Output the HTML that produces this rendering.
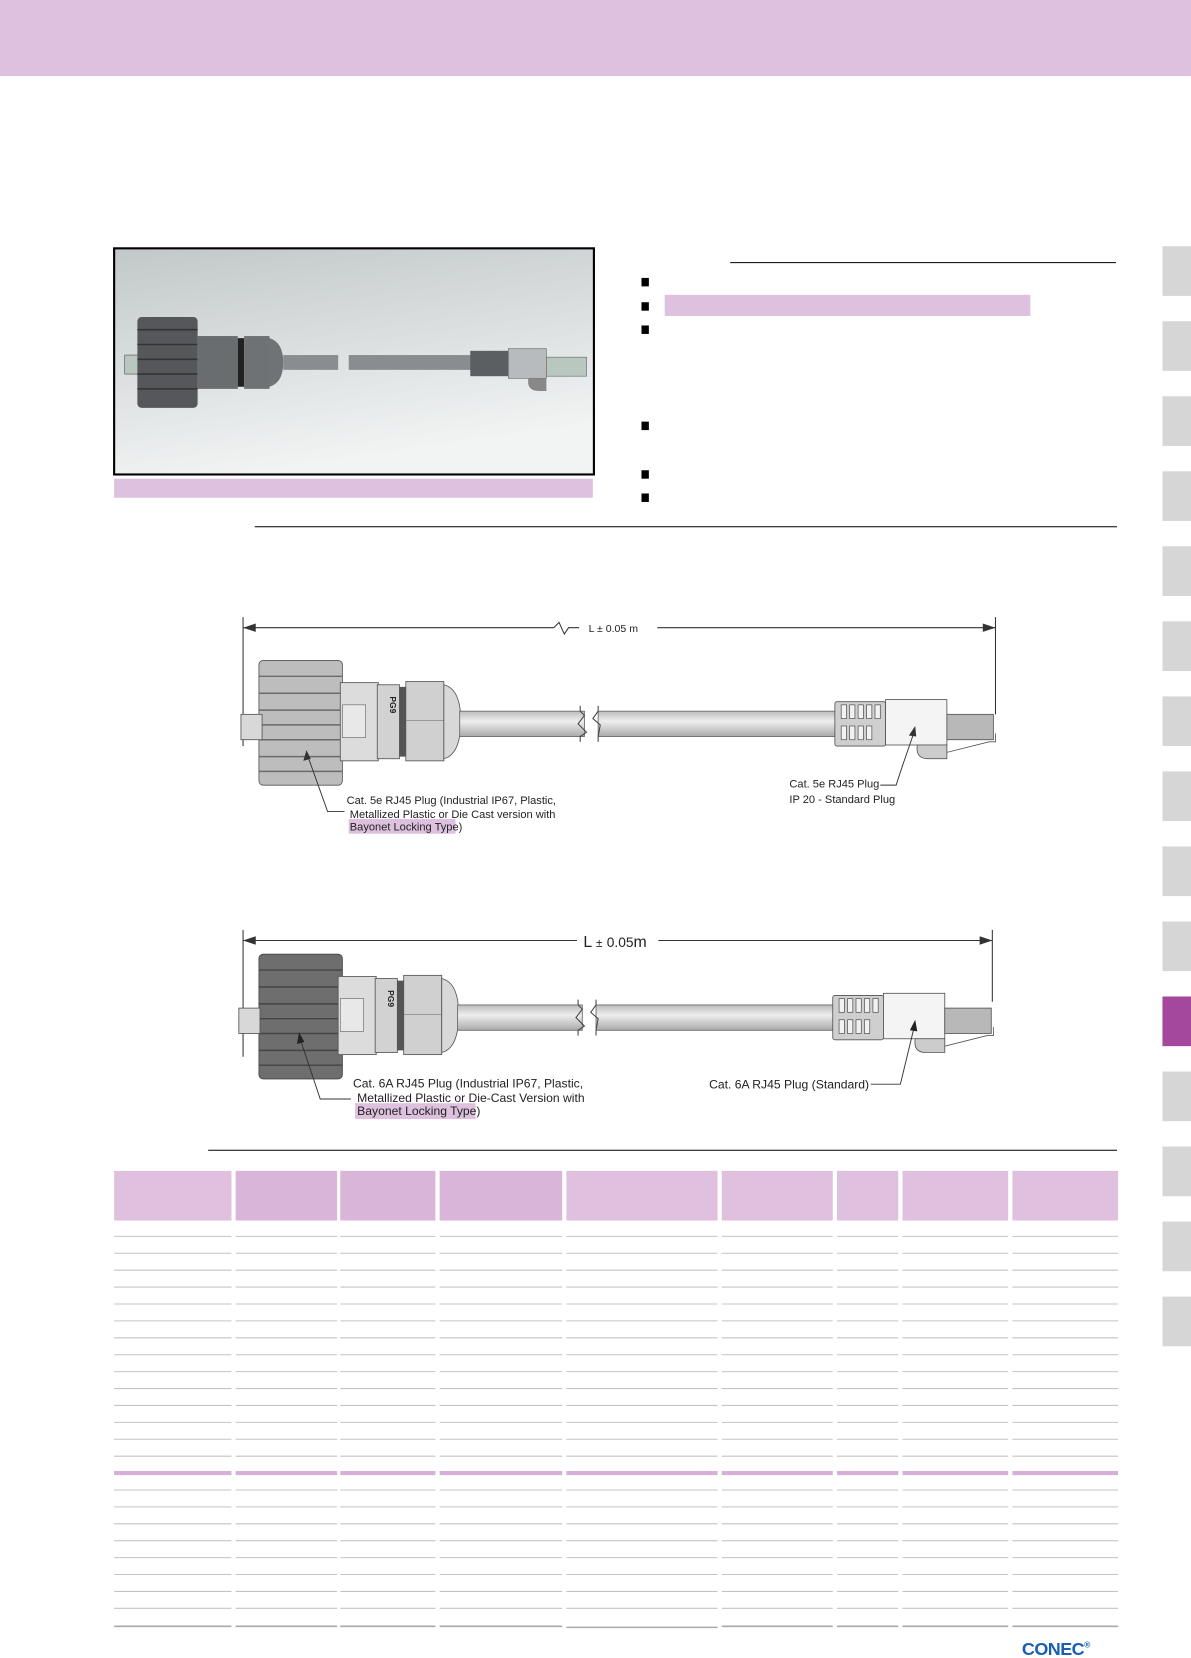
<!DOCTYPE html>
<html><head><meta charset="utf-8"><style>
html,body{margin:0;padding:0;background:#fff;}
svg{display:block;}
text{font-family:"Liberation Sans",sans-serif;}
</style></head><body>
<svg width="1191" height="1658" viewBox="0 0 1127 1569" preserveAspectRatio="none" xmlns="http://www.w3.org/2000/svg">
<defs>
<linearGradient id="bg" x1="0" y1="0" x2="0.3" y2="1">
<stop offset="0" stop-color="#c2c8c8"/><stop offset="1" stop-color="#f2f4f4"/></linearGradient>
<linearGradient id="cab" x1="0" y1="0" x2="0" y2="1">
<stop offset="0" stop-color="#bbb"/><stop offset="0.4" stop-color="#eee"/><stop offset="1" stop-color="#aaa"/></linearGradient>
<g id="conn">
 <rect x="228" y="676" width="20" height="24" fill="#d8d8d8" stroke="#555" stroke-width="0.8"/>
 <rect x="322" y="646" width="36" height="74" fill="#dcdcdc" stroke="#555" stroke-width="0.8"/>
 <rect x="324" y="667" width="22" height="31" fill="#e8e8e8" stroke="#666" stroke-width="0.6"/>
 <rect x="357" y="648" width="21" height="70" fill="#d2d2d2" stroke="#555" stroke-width="0.8"/>
 <text x="364" y="660" font-size="8" font-weight="bold" transform="rotate(90 367 662)" fill="#222">PG9</text>
 <rect x="378" y="650" width="6" height="66" fill="#555"/>
 <rect x="384" y="645" width="36" height="75" fill="#d0d0d0" stroke="#555" stroke-width="0.8"/>
 <line x1="384" y1="682" x2="420" y2="682" stroke="#777" stroke-width="0.6"/>
 <path d="M420 648 Q436 652 436 682 Q436 714 420 718 Z" fill="#d8d8d8" stroke="#555" stroke-width="0.8"/>
 <rect x="435" y="673" width="118" height="24" fill="url(#cab)" stroke="#666" stroke-width="0.8"/>
 <path d="M549 668 L549 673 L553 677 L547 685 L555 693 L549 697 L549 702" fill="none" stroke="#444" stroke-width="1"/>
 <rect x="566" y="673" width="226" height="24" fill="url(#cab)" stroke="#666" stroke-width="0.8"/>
 <path d="M566 668 L566 673 L561 680 L568 686 L566 697 L566 702" fill="none" stroke="#444" stroke-width="1"/>
 <rect x="790" y="664" width="48" height="42" fill="#cfcfcf" stroke="#555" stroke-width="0.8" rx="2"/>
 <g fill="#f2f2f2" stroke="#555" stroke-width="0.7">
  <rect x="796" y="667" width="5" height="13"/><rect x="804" y="667" width="5" height="13"/><rect x="812" y="667" width="5" height="13"/><rect x="820" y="667" width="5" height="13"/><rect x="828" y="667" width="5" height="13"/>
  <rect x="796" y="687" width="5" height="13"/><rect x="804" y="687" width="5" height="13"/><rect x="812" y="687" width="5" height="13"/><rect x="820" y="687" width="5" height="13"/>
 </g>
 <rect x="838" y="662" width="58" height="43" fill="#f4f4f4" stroke="#555" stroke-width="0.8"/>
 <path d="M868 705 Q866 718 878 718 L896 718 L896 705 Z" fill="#ccc" stroke="#555" stroke-width="0.8"/>
 <rect x="896" y="676" width="44" height="24" fill="#b8b8b8" stroke="#555" stroke-width="0.8"/>
 <path d="M896 712 L936 702 L942 702 L942 694" fill="none" stroke="#555" stroke-width="0.8"/>
</g>
</defs>

<rect x="0" y="0" width="1127" height="72" fill="#ddc1de"/>

<g fill="#d6d6d6">
<rect x="1100" y="233" width="27" height="47"/><rect x="1100" y="304" width="27" height="47"/><rect x="1100" y="375" width="27" height="47"/><rect x="1100" y="446" width="27" height="47"/><rect x="1100" y="517" width="27" height="47"/><rect x="1100" y="588" width="27" height="47"/><rect x="1100" y="659" width="27" height="47"/><rect x="1100" y="730" width="27" height="47"/><rect x="1100" y="801" width="27" height="47"/><rect x="1100" y="872" width="27" height="47"/>
<rect x="1100" y="1014" width="27" height="47"/><rect x="1100" y="1085" width="27" height="47"/><rect x="1100" y="1156" width="27" height="47"/><rect x="1100" y="1227" width="27" height="47"/>
</g>
<rect x="1100" y="943" width="27" height="47" fill="#a3489c"/>

<rect x="108" y="235" width="454" height="214" fill="url(#bg)" stroke="#000" stroke-width="2"/>
<g>
 <rect x="118" y="336" width="14" height="18" fill="#b8c8c0" stroke="#555" stroke-width="0.6"/>
 <rect x="130" y="300" width="57" height="86" rx="4" fill="#55575a"/>
 <g stroke="#333" stroke-width="1.5"><line x1="130" y1="312" x2="187" y2="312"/><line x1="130" y1="326" x2="187" y2="326"/><line x1="130" y1="340" x2="187" y2="340"/><line x1="130" y1="354" x2="187" y2="354"/><line x1="130" y1="368" x2="187" y2="368"/></g>
 <rect x="187" y="318" width="38" height="50" fill="#6a6d70"/>
 <rect x="225" y="320" width="6" height="46" fill="#222"/>
 <rect x="231" y="318" width="24" height="50" fill="#6f7275"/>
 <path d="M255 320 Q268 324 268 343 Q268 362 255 366 Z" fill="#707376"/>
 <rect x="268" y="336" width="52" height="14" fill="#8a8d90"/>
 <rect x="330" y="336" width="118" height="14" fill="#8a8d90"/>
 <rect x="445" y="332" width="36" height="24" fill="#5c5f62"/>
 <rect x="481" y="330" width="36" height="28" fill="#b8bbbe" stroke="#666" stroke-width="0.6"/>
 <path d="M500 358 Q498 370 510 370 L517 370 L517 358 Z" fill="#888"/>
 <rect x="517" y="338" width="38" height="18" fill="#b8c8c0" stroke="#666" stroke-width="0.6"/>
</g>
<rect x="108" y="453" width="453" height="18" fill="#ddc1de"/>

<line x1="691" y1="248.5" x2="1056" y2="248.5" stroke="#000" stroke-width="1"/>
<g fill="#000">
<rect x="607" y="263" width="7" height="8"/><rect x="607" y="286" width="7" height="8"/><rect x="607" y="308" width="7" height="8"/><rect x="607" y="399" width="7" height="8"/><rect x="607" y="445" width="7" height="8"/><rect x="607" y="467" width="7" height="8"/>
</g>
<rect x="629" y="279" width="346" height="20" fill="#ddc1de"/>
<line x1="241" y1="498.5" x2="1057" y2="498.5" stroke="#000" stroke-width="1"/>

<g stroke="#333" stroke-width="1" fill="none">
 <line x1="230" y1="584" x2="230" y2="706"/>
 <line x1="942" y1="584" x2="942" y2="676"/>
 <path d="M230 594 L524 594 L529 589 L534 600 L538 594 L548 594"/>
 <line x1="622" y1="594" x2="942" y2="594"/>
</g>
<path d="M230 594 L242 590 L242 598 Z M942 594 L930 590 L930 598 Z" fill="#333"/>
<text x="557" y="598" font-size="10" fill="#222">L ± 0.05 m</text>
<rect x="245" y="625" width="79" height="118" rx="4" fill="#bdbdbd" stroke="#555" stroke-width="0.8"/>
<g stroke="#6a6a6a" stroke-width="1.4"><line x1="245" y1="640" x2="324" y2="640"/><line x1="245" y1="656" x2="324" y2="656"/><line x1="245" y1="672" x2="324" y2="672"/><line x1="245" y1="686" x2="324" y2="686"/><line x1="245" y1="700" x2="324" y2="700"/><line x1="245" y1="716" x2="324" y2="716"/><line x1="245" y1="730" x2="324" y2="730"/></g>
<use href="#conn"/>
<g stroke="#333" stroke-width="0.9" fill="none">
 <path d="M290 712 L310 768 L326 768"/>
 <path d="M833 743 L848 743 Q852 730 866 690"/>
</g>
<path d="M290 710 L287 720 L294 718 Z M866 687 L860 696 L867 697 Z" fill="#333"/>
<rect x="330" y="775" width="101" height="14" fill="#ddc1de"/>
<g font-size="10.5" fill="#222">
<text x="328" y="761">Cat. 5e RJ45 Plug (Industrial IP67, Plastic,</text>
<text x="331" y="774">Metallized Plastic or Die Cast version with</text>
<text x="331" y="786">Bayonet Locking Type)</text>
<text x="747" y="745">Cat. 5e RJ45 Plug</text>
<text x="747" y="760">IP 20 - Standard Plug</text>
</g>

<g stroke="#333" stroke-width="1" fill="none">
 <line x1="230" y1="880" x2="230" y2="1000"/>
 <line x1="939" y1="880" x2="939" y2="948"/>
 <line x1="230" y1="890" x2="546" y2="890"/>
 <line x1="623" y1="890" x2="939" y2="890"/>
</g>
<path d="M230 890 L242 886 L242 894 Z M939 890 L927 886 L927 894 Z" fill="#333"/>
<text x="552" y="896" font-size="15" fill="#222">L <tspan font-size="11">±</tspan> <tspan font-size="13">0.05</tspan>m</text>
<rect x="245" y="903" width="79" height="118" rx="4" fill="#6e6e6e" stroke="#444" stroke-width="0.8"/>
<g stroke="#444" stroke-width="1.4"><line x1="245" y1="918" x2="324" y2="918"/><line x1="245" y1="934" x2="324" y2="934"/><line x1="245" y1="950" x2="324" y2="950"/><line x1="245" y1="964" x2="324" y2="964"/><line x1="245" y1="978" x2="324" y2="978"/><line x1="245" y1="994" x2="324" y2="994"/><line x1="245" y1="1008" x2="324" y2="1008"/></g>
<use href="#conn" transform="translate(-2 278)"/>
<g stroke="#333" stroke-width="0.9" fill="none">
 <path d="M283 980 L303 1040 L332 1040"/>
 <path d="M824 1026 L852 1026 L866 968"/>
</g>
<path d="M283 977 L281 988 L288 986 Z M866 965 L861 975 L868 976 Z" fill="#222"/>
<rect x="336" y="1044" width="114" height="15" fill="#ddc1de"/>
<g font-size="11.5" fill="#222">
<text x="334" y="1029">Cat. 6A RJ45 Plug (Industrial IP67, Plastic,</text>
<text x="338" y="1043">Metallized Plastic or Die-Cast Version with</text>
<text x="338" y="1055">Bayonet Locking Type)</text>
<text x="671" y="1030">Cat. 6A RJ45 Plug (Standard)</text>
</g>

<line x1="197" y1="1088.5" x2="1057" y2="1088.5" stroke="#000" stroke-width="1"/>

<g fill="#dfc0df">
<rect x="108" y="1108" width="111" height="47"/><rect x="536" y="1108" width="143" height="47"/><rect x="683" y="1108" width="105" height="47"/><rect x="792" y="1108" width="58" height="47"/><rect x="854" y="1108" width="100" height="47"/><rect x="958" y="1108" width="100" height="47"/>
</g>
<g fill="#d9b5d9">
<rect x="223" y="1108" width="96" height="47"/><rect x="322" y="1108" width="90" height="47"/><rect x="416" y="1108" width="116" height="47"/>
</g>
<g id="rows" stroke="#c4c4c4" stroke-width="1">
<path d="M108 1170H219M223 1170H319M322 1170H412M416 1170H532M536 1170H679M683 1170H788M792 1170H850M854 1170H954M958 1170H1058"/>
</g>
<use href="#rows" transform="translate(0 16)"/><use href="#rows" transform="translate(0 32)"/><use href="#rows" transform="translate(0 48)"/><use href="#rows" transform="translate(0 64)"/><use href="#rows" transform="translate(0 80)"/><use href="#rows" transform="translate(0 96)"/><use href="#rows" transform="translate(0 112)"/><use href="#rows" transform="translate(0 128)"/><use href="#rows" transform="translate(0 144)"/><use href="#rows" transform="translate(0 160)"/><use href="#rows" transform="translate(0 176)"/><use href="#rows" transform="translate(0 192)"/><use href="#rows" transform="translate(0 208)"/>
<g stroke="#d6b0d6" stroke-width="4">
<path d="M108 1394H219M223 1394H319M322 1394H412M416 1394H532M536 1394H679M683 1394H788M792 1394H850M854 1394H954M958 1394H1058"/>
</g>
<use href="#rows" transform="translate(0 240)"/><use href="#rows" transform="translate(0 256)"/><use href="#rows" transform="translate(0 272)"/><use href="#rows" transform="translate(0 288)"/><use href="#rows" transform="translate(0 304)"/><use href="#rows" transform="translate(0 320)"/><use href="#rows" transform="translate(0 336)"/><use href="#rows" transform="translate(0 352)"/>
<g stroke="#a8a8a8" stroke-width="1.5">
<path d="M108 1539H219M223 1539H319M322 1539H412M416 1539H532M536 1540H679M683 1539H788M792 1539H850M854 1539H954M958 1539H1058"/>
</g>

<text x="967" y="1566" font-size="17" font-weight="bold" fill="#1a5fb0" letter-spacing="-0.5">CONEC<tspan font-size="8" dy="-7">®</tspan></text>
</svg>
</body></html>
